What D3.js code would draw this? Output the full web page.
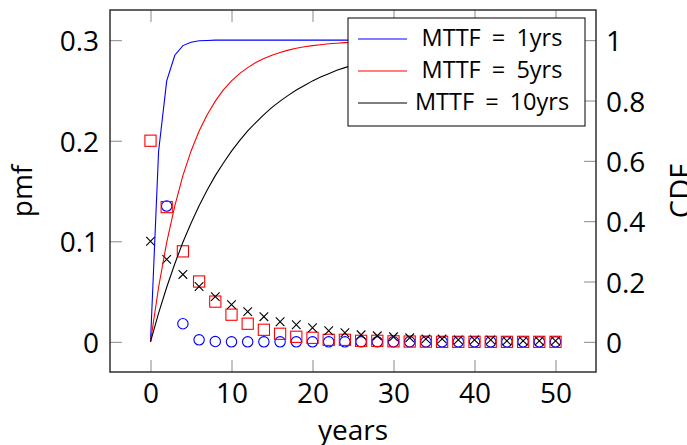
<!DOCTYPE html>
<html>
<head>
<meta charset="utf-8">
<script src="https://cdn.jsdelivr.net/npm/d3@7/dist/d3.min.js"></script>
<style>
	body {margin:0; background:#fff;}
	svg text {font-family:"Open Sans", sans-serif; fill:#000;}
</style>
</head>
<body>
<div id="chart"></div>
<script>

// pmf markers, one every 2 years
const pmfYears = [0,2,4,6,8,10,12,14,16,18,20,22,24,26,28,30,32,34,36,38,40,42,44,46,48,50];
const pmfMTTF1 = [null,0.135,0.018,0.002,0.0003,0,0,0,0,0,0,0,0,0,0,0,0,0,0,0,0,0,0,0,0,0]; // x=0 is off the chart
const pmfMTTF5 = [0.200,0.134,0.090,0.060,0.040,0.027,0.018,0.012,0.008,0.005,0.004,0.002,0.002,0.001,0.001,0.0005,0.0003,0.0002,0,0,0,0,0,0,0,0];
const pmfMTTF10 = [0.100,0.082,0.067,0.055,0.045,0.037,0.030,0.025,0.020,0.017,0.014,0.011,0.009,0.007,0.006,0.005,0.004,0.003,0.003,0.002,0.002,0.002,0.001,0.001,0.001,0.001];

// cdf lines, one sample per year
const cdfYears = [0,1,2,3,4,5,6,7,8,9,10,11,12,13,14,15,16,17,18,19,20,21,22,23,24,25,26,27,28,29,30,31,32,33,34,35,36,37,38,39,40,41,42,43,44,45,46,47,48,49,50];
const cdfMTTF1 = [0,0.632,0.865,0.950,0.982,0.993,0.998,0.999,1,1,1,1,1,1,1,1,1,1,1,1,1,1,1,1,1,1,1,1,1,1,1,1,1,1,1,1,1,1,1,1,1,1,1,1,1,1,1,1,1,1,1];
const cdfMTTF5 = [0,0.181,0.330,0.451,0.551,0.632,0.699,0.753,0.798,0.835,0.865,0.889,0.909,0.926,0.939,0.950,0.959,0.967,0.973,0.978,0.982,0.985,0.988,0.990,0.992,0.993,0.994,0.995,0.996,0.997,0.998,0.998,0.998,0.999,0.999,0.999,0.999,0.999,1,1,1,1,1,1,1,1,1,1,1,1,1];
const cdfMTTF10 = [0,0.095,0.181,0.259,0.330,0.393,0.451,0.503,0.551,0.593,0.632,0.667,0.699,0.727,0.753,0.777,0.798,0.817,0.835,0.850,0.865,0.878,0.889,0.900,0.909,0.918,0.926,0.933,0.939,0.945,0.950,0.955,0.959,0.963,0.967,0.970,0.973,0.975,0.978,0.980,0.982,0.983,0.985,0.986,0.988,0.989,0.990,0.991,0.992,0.993,0.993];

const legendLabels = ['MTTF = 1yrs','MTTF = 5yrs','MTTF = 10yrs'];
const colors = ['#0000ff','#ff0000','#000000'];

// ticks
const xTicks = [0,10,20,30,40,50];
const pmfTicks = [0,0.1,0.2,0.3];
const cdfTicks = [0,0.2,0.4,0.6,0.8,1];

const width = 687;
const height = 445;
const margin = {t:10,r:91,b:73,l:110};
const w = width - margin.l - margin.r;
const h = height - margin.t - margin.b;

const svg = d3.select('#chart').append('svg')
	.attr('width',width)
	.attr('height',height);

const plot = svg.append('g')
	.attr('transform',`translate(${margin.l},${margin.t})`);

plot.append('clipPath').attr('id','clip')
	.append('rect').attr('width',w).attr('height',h);

//Scales
const scaleX = d3.scaleLinear().domain([-5,55]).range([0,w]);
const scalePmf = d3.scaleLinear().domain([-0.03,0.33]).range([h,0]);
const scaleCdf = d3.scaleLinear().domain([-0.1,1.1]).range([h,0]);

//Axes, ticks point inward like pgfplots
const fmt = d3.format('~g');

function styleAxis(g) {
	g.select('.domain').remove();
	g.attr('font-family',null).attr('font-size',28);
	g.selectAll('.tick line').attr('stroke','#8a8a8a').attr('stroke-width',1);
}

plot.append('g')
	.attr('transform',`translate(0,${h})`)
	.call(d3.axisBottom(scaleX).tickValues(xTicks).tickSizeInner(-12).tickSizeOuter(0).tickPadding(11).tickFormat(fmt))
	.call(styleAxis);

plot.append('g')
	.call(d3.axisTop(scaleX).tickValues(xTicks).tickSizeInner(-12).tickSizeOuter(0).tickFormat(''))
	.call(styleAxis);

plot.append('g')
	.call(d3.axisLeft(scalePmf).tickValues(pmfTicks).tickSizeInner(-12).tickSizeOuter(0).tickPadding(11).tickFormat(fmt))
	.call(styleAxis)
	.selectAll('.tick text').attr('dy','0.38em');

plot.append('g')
	.attr('transform',`translate(${w},0)`)
	.call(d3.axisRight(scaleCdf).tickValues(cdfTicks).tickSizeInner(-12).tickSizeOuter(0).tickPadding(10).tickFormat(fmt))
	.call(styleAxis)
	.selectAll('.tick text').attr('dy','0.38em');

//pmf markers
const marks = plot.append('g').attr('clip-path','url(#clip)');

const circles = pmfYears.map((x,i) => ({x:x, y:pmfMTTF1[i]})).filter(d => d.y !== null);
marks.selectAll('.m1')
	.data(circles)
	.enter().append('circle')
	.attr('class','m1')
	.attr('cx',d => scaleX(d.x))
	.attr('cy',d => scalePmf(d.y))
	.attr('r',5.2)
	.attr('fill','none')
	.attr('stroke',colors[0])
	.attr('stroke-width',1.1);

marks.selectAll('.m5')
	.data(pmfYears.map((x,i) => ({x:x, y:pmfMTTF5[i]})))
	.enter().append('rect')
	.attr('class','m5')
	.attr('x',d => scaleX(d.x) - 5.6)
	.attr('y',d => scalePmf(d.y) - 5.6)
	.attr('width',11.2)
	.attr('height',11.2)
	.attr('fill','none')
	.attr('stroke',colors[1])
	.attr('stroke-width',1.1);

marks.selectAll('.m10')
	.data(pmfYears.map((x,i) => ({x:x, y:pmfMTTF10[i]})))
	.enter().append('path')
	.attr('class','m10')
	.attr('transform',d => `translate(${scaleX(d.x)},${scalePmf(d.y)})`)
	.attr('d','M-4.3,-4.3L4.3,4.3M-4.3,4.3L4.3,-4.3')
	.attr('stroke',colors[2])
	.attr('stroke-width',1.1);

//cdf lines
const line = d3.line()
	.x((d,i) => scaleX(cdfYears[i]))
	.y(d => scaleCdf(d));

marks.selectAll('.cdf')
	.data([cdfMTTF1,cdfMTTF5,cdfMTTF10])
	.enter().append('path')
	.attr('class','cdf')
	.attr('d',line)
	.attr('fill','none')
	.attr('stroke',(d,i) => colors[i])
	.attr('stroke-width',1.1);

//frame
plot.append('rect')
	.attr('width',w)
	.attr('height',h)
	.attr('fill','none')
	.attr('stroke','#222')
	.attr('stroke-width',1.4);

//legend
const legend = plot.append('g')
	.attr('transform',`translate(${348 - margin.l},${18 - margin.t})`);

legend.append('rect')
	.attr('width',237)
	.attr('height',108)
	.attr('fill','#fff')
	.attr('stroke','#000')
	.attr('stroke-width',1);

const entry = legend.selectAll('.entry')
	.data(legendLabels)
	.enter().append('g')
	.attr('class','entry')
	.attr('transform',(d,i) => `translate(0,${21 + i*32})`);

entry.append('line')
	.attr('x1',10).attr('x2',59)
	.attr('stroke',(d,i) => colors[i])
	.attr('stroke-width',1.1);

entry.append('text')
	.attr('x',144)
	.attr('y',6.7)
	.attr('text-anchor','middle')
	.attr('font-size',23.5)
	.attr('word-spacing',5)
	.text(d => d);

//axis labels
svg.append('text')
	.attr('x',margin.l + w/2)
	.attr('y',440)
	.attr('text-anchor','middle')
	.attr('font-size',28)
	.text('years');

svg.append('text')
	.attr('transform',`translate(32,${margin.t + h/2}) rotate(-90)`)
	.attr('text-anchor','middle')
	.attr('font-size',28)
	.text('pmf');

svg.append('text')
	.attr('transform',`translate(691,${margin.t + h/2}) rotate(-90)`)
	.attr('text-anchor','middle')
	.attr('font-size',29)
	.text('CDF');

</script>
</body>
</html>
